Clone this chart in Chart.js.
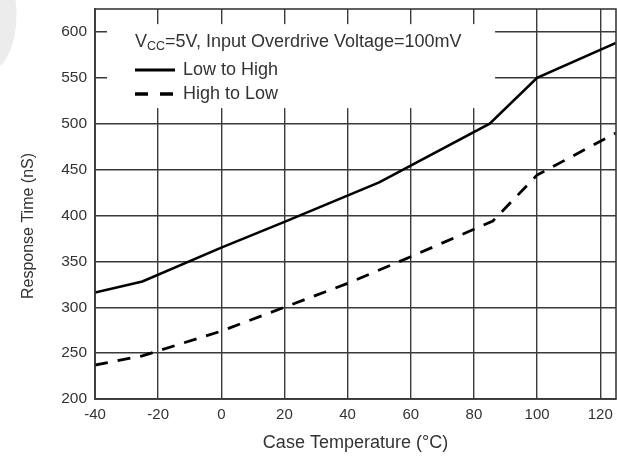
<!DOCTYPE html>
<html>
<head>
<meta charset="utf-8">
<script src="https://cdn.jsdelivr.net/npm/chart.js@4/dist/chart.umd.min.js"></script>
<style>
  html, body { margin: 0; padding: 0; background: #fff; }
  #wrap { width: 617px; height: 462px; position: relative; }
</style>
</head>
<body>
<div id="wrap"><canvas id="c" width="617" height="462"></canvas></div>
<script>
// ---- data ----
const lowToHighTemp = [-40, -25, 0, 20, 50, 85, 100, 125];
const lowToHighNs   = [316, 328, 365, 393, 436, 500, 550, 588];
const highToLowTemp = [-40, -25, 0, 20, 40, 60, 86, 100, 125];
const highToLowNs   = [237, 247, 274, 300, 326, 355, 394, 444, 490];
const seriesLabels  = ['Low to High', 'High to Low'];
const xTickValues   = [-40, -20, 0, 20, 40, 60, 80, 100, 120];
const yTickValues   = [200, 250, 300, 350, 400, 450, 500, 550, 600];
const xTitle = 'Case Temperature (\u00B0C)';
const yTitle = 'Response Time (nS)';
const condPrefix = 'V';
const condSub = 'CC';
const condRest = '=5V, Input Overdrive Voltage=100mV';

const FONT = '"Liberation Sans", Arial, sans-serif';
const TXT = '#333';
const GRID = '#3a3a3a';

const toPts = (xs, ys) => xs.map((x, i) => ({x: x, y: ys[i]}));

const decoPlugin = {
  id: 'deco',
  beforeDraw(chart) {
    const ctx = chart.ctx;
    ctx.save();
    ctx.fillStyle = '#ececec';
    ctx.beginPath();
    ctx.ellipse(-10, 15, 26.5, 55, 0, 0, Math.PI * 2);
    ctx.fill();
    ctx.restore();
  },
  beforeDatasetsDraw(chart) {
    const ctx = chart.ctx;
    const x = chart.scales.x, y = chart.scales.y;
    ctx.save();
    // white legend box covering grid
    ctx.fillStyle = '#fff';
    const bx0 = x.getPixelForValue(-36.2), bx1 = x.getPixelForValue(86.7);
    const by0 = y.getPixelForValue(608.5), by1 = y.getPixelForValue(517);
    ctx.fillRect(bx0, by0, bx1 - bx0, by1 - by0);
    // condition title
    ctx.fillStyle = TXT;
    ctx.textBaseline = 'middle';
    ctx.textAlign = 'left';
    let tx = 135, ty = 42;
    ctx.font = '18px ' + FONT;
    ctx.fillText(condPrefix, tx, ty);
    tx += ctx.measureText(condPrefix).width;
    ctx.font = '12.5px ' + FONT;
    ctx.fillText(condSub, tx, ty + 5);
    tx += ctx.measureText(condSub).width;
    ctx.font = '18px ' + FONT;
    ctx.fillText(condRest, tx, ty);
    // legend entries
    ctx.strokeStyle = '#000';
    ctx.lineWidth = 3;
    ctx.beginPath(); ctx.moveTo(135, 70); ctx.lineTo(175, 70); ctx.stroke();
    ctx.lineWidth = 3.5;
    ctx.setLineDash([13, 12]);
    ctx.beginPath(); ctx.moveTo(135, 94); ctx.lineTo(175, 94); ctx.stroke();
    ctx.setLineDash([]);
    ctx.fillText(seriesLabels[0], 183, 70);
    ctx.fillText(seriesLabels[1], 183, 94);
    ctx.restore();
  },
  afterDraw(chart) {
    const ctx = chart.ctx;
    ctx.save();
    ctx.fillStyle = TXT;
    ctx.font = '16px ' + FONT;
    ctx.textAlign = 'center';
    ctx.textBaseline = 'middle';
    ctx.translate(29, 226);
    ctx.rotate(-Math.PI / 2);
    ctx.fillText(yTitle, 0, 0);
    ctx.restore();
  }
};

new Chart(document.getElementById('c'), {
  type: 'scatter',
  data: {
    datasets: [
      {
        label: seriesLabels[0],
        data: toPts(lowToHighTemp, lowToHighNs),
        showLine: true, borderColor: '#000', borderWidth: 2.6,
        pointRadius: 0, tension: 0, fill: false
      },
      {
        label: seriesLabels[1],
        data: toPts(highToLowTemp, highToLowNs),
        showLine: true, borderColor: '#000', borderWidth: 2.8,
        borderDash: [13, 10],
        pointRadius: 0, tension: 0, fill: false
      }
    ]
  },
  options: {
    responsive: false,
    animation: false,
    devicePixelRatio: 1,
    layout: { padding: { top: 9, right: 1, left: 0, bottom: 0 } },
    plugins: { legend: { display: false }, tooltip: { enabled: false } },
    scales: {
      x: {
        type: 'linear', min: -40, max: 125,
        afterFit(s) { s.height = 63; s.paddingLeft = 0; s.paddingRight = 0; },
        afterBuildTicks(s) { s.ticks = xTickValues.map(v => ({value: v})); },
        ticks: { color: TXT, font: { size: 15, family: FONT }, padding: 7, maxRotation: 0, includeBounds: false },
        grid: { color: GRID, lineWidth: 1.4, drawTicks: false },
        border: { color: GRID, width: 1.6 },
        title: { display: true, text: xTitle, color: TXT, font: { size: 18, family: FONT }, padding: { top: 0, bottom: 8 } }
      },
      y: {
        type: 'linear', min: 200, max: 625,
        afterFit(s) { s.width = 95; s.paddingTop = 0; s.paddingBottom = 0; },
        afterBuildTicks(s) { s.ticks = yTickValues.map(v => ({value: v})); },
        ticks: { color: TXT, font: { size: 15.5, family: FONT }, padding: 8, includeBounds: false },
        grid: { color: GRID, lineWidth: 1.4, drawTicks: false },
        border: { color: GRID, width: 1.6 },
        title: { display: false }
      }
    }
  },
  plugins: [decoPlugin, {
    id: 'frame',
    afterDatasetsDraw(chart) {
      const a = chart.chartArea, ctx = chart.ctx;
      ctx.save();
      ctx.strokeStyle = GRID; ctx.lineWidth = 1.6;
      ctx.strokeRect(a.left, a.top, a.right - a.left, a.bottom - a.top);
      ctx.restore();
    }
  }]
});
</script>
</body>
</html>
